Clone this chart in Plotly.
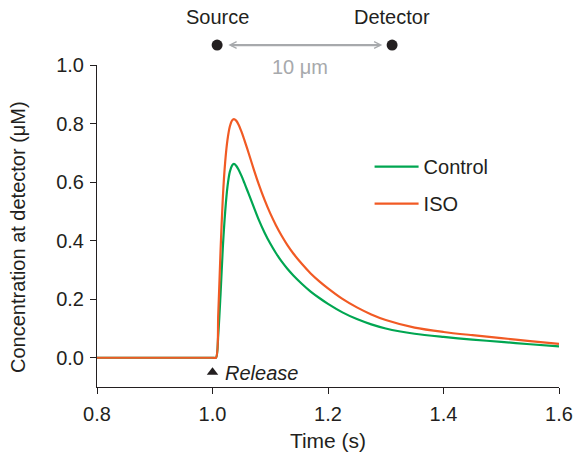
import plotly.graph_objects as go

# Time (s) and concentration (uM)
time_s = [0.8, 1.0, 1.006, 1.010, 1.014, 1.018, 1.022, 1.026, 1.030, 1.034,
          1.037, 1.041, 1.045, 1.050, 1.055, 1.060, 1.065, 1.072, 1.08, 1.09,
          1.10, 1.11, 1.12, 1.13, 1.14, 1.155, 1.17, 1.185, 1.20, 1.225,
          1.25, 1.275, 1.30, 1.35, 1.40, 1.45, 1.50, 1.55, 1.60]
control = [0.0, 0.0, 0.0, 0.08, 0.22, 0.38, 0.50, 0.585, 0.635, 0.657,
           0.662, 0.656, 0.643, 0.622, 0.598, 0.573, 0.548, 0.512, 0.472, 0.428,
           0.390, 0.357, 0.328, 0.303, 0.281, 0.252, 0.226, 0.204, 0.184, 0.155,
           0.132, 0.114, 0.100, 0.082, 0.071, 0.062, 0.054, 0.046, 0.039]
iso = [0.0, 0.0, 0.0, 0.15, 0.37, 0.55, 0.67, 0.745, 0.790, 0.811,
       0.815, 0.810, 0.797, 0.773, 0.745, 0.715, 0.684, 0.640, 0.593, 0.540,
       0.493, 0.452, 0.416, 0.384, 0.356, 0.320, 0.288, 0.261, 0.237, 0.201,
       0.172, 0.148, 0.129, 0.103, 0.088, 0.077, 0.067, 0.057, 0.047]

x_ticks = [0.8, 1.0, 1.2, 1.4, 1.6]
y_ticks = [0.0, 0.2, 0.4, 0.6, 0.8, 1.0]

# source / detector positions on the time axis (schematic)
source_x = 1.008
detector_x = 1.311

GREEN = "#00a651"
RED = "#f15a24"
GREY = "#a7a9ac"
INK = "#231f20"
FONT = "Liberation Sans, Arial, sans-serif"

fig = go.Figure()
fig.add_scatter(x=time_s, y=control, name="Control", mode="lines",
                line=dict(color=GREEN, width=2.2, shape="spline", smoothing=0.8),
                legendgroup="c")
fig.add_scatter(x=time_s, y=iso, name="ISO", mode="lines",
                line=dict(color=RED, width=2.2, shape="spline", smoothing=0.8),
                legendgroup="i")

# release marker
fig.add_scatter(x=[1.0], y=[-0.05], mode="markers",
                marker=dict(color=INK, size=10, symbol="triangle-up"),
                showlegend=False, cliponaxis=False, hoverinfo="skip")

# source / detector dots (in the top margin)
for sx in (source_x, detector_x):
    fig.add_shape(type="circle", xref="x", yref="paper",
                  xsizemode="pixel", ysizemode="pixel",
                  xanchor=sx, yanchor=1.062,
                  x0=-5.5, x1=5.5, y0=-5.5, y1=5.5,
                  fillcolor=INK, line=dict(width=0))

# double-headed 10 um arrow between them (open chevron heads)
fig.add_annotation(x=1.294, y=1.062, ax=1.025, ay=0, axref="x", ayref="pixel",
                   xref="x", yref="paper", text="", showarrow=True,
                   arrowhead=5, startarrowhead=5, arrowside="end+start",
                   arrowsize=0.6, startarrowsize=0.6,
                   arrowwidth=2.2, arrowcolor=GREY)
fig.add_annotation(x=1.152, y=0.994, xref="x", yref="paper", text="10 μm",
                   yanchor="middle", showarrow=False, font=dict(color=GREY, size=20))
fig.add_annotation(x=source_x, y=1.149, xref="x", yref="paper", text="Source",
                   yanchor="middle", showarrow=False, font=dict(size=20))
fig.add_annotation(x=detector_x, y=1.149, xref="x", yref="paper", text="Detector",
                   yanchor="middle", showarrow=False, font=dict(size=20))
fig.add_annotation(x=1.019, y=-0.051, xref="x", yref="y", text="<i>Release</i>",
                   showarrow=False, xanchor="left", font=dict(size=20))
# y-axis title as a rotated annotation so it can sit a little lower
fig.add_annotation(x=-0.171, y=0.466, xref="paper", yref="paper",
                   xanchor="center", yanchor="middle",
                   text="Concentration at detector (μM)", textangle=-90,
                   showarrow=False, font=dict(size=20))

fig.update_layout(
    width=574, height=462,
    margin=dict(l=97, r=15, t=65, b=75),
    plot_bgcolor="white", paper_bgcolor="white",
    font=dict(family=FONT, size=20, color=INK),
    showlegend=True,
    legend=dict(x=0.59, y=0.745, xanchor="left", yanchor="top",
                traceorder="grouped", tracegroupgap=8, itemwidth=44,
                bgcolor="rgba(0,0,0,0)", font=dict(size=20)),
)
fig.update_xaxes(range=[0.8, 1.6], tickvals=x_ticks, ticktext=[f"{v:.1f}" for v in x_ticks],
                 showline=True, linecolor=INK, linewidth=1,
                 ticks="outside", ticklen=6, tickcolor=INK, ticklabelstandoff=3,
                 showgrid=False, zeroline=False, automargin=False,
                 title_text="Time (s)", title_standoff=9, title_font=dict(size=21))
fig.update_yaxes(range=[-0.1, 1.0], tickvals=y_ticks, ticktext=[f"{v:.1f}" for v in y_ticks],
                 showline=True, linecolor=INK, linewidth=1,
                 ticks="outside", ticklen=6, tickcolor=INK, ticklabelstandoff=2,
                 showgrid=False, zeroline=False, automargin=False)

# the page's default body margin would shift the figure by 8px
fig.write_html("out.html", config={"displayModeBar": False},
               post_script="document.body.style.margin='0';")
